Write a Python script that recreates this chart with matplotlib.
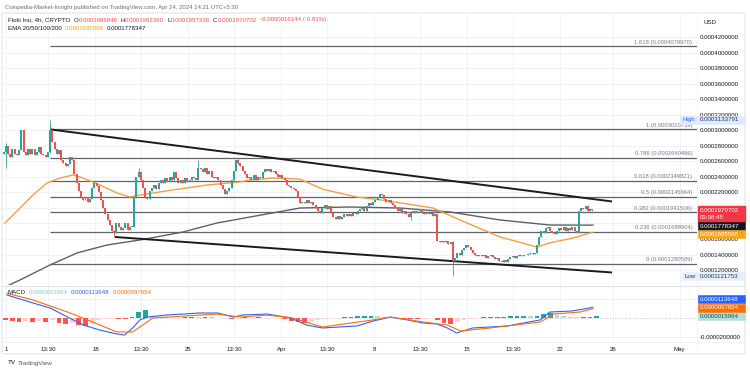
import numpy as np
import matplotlib
matplotlib.use("Agg")
import matplotlib.pyplot as plt
from matplotlib.patches import Rectangle, FancyBboxPatch
from matplotlib.lines import Line2D

plt.rcParams['font.family'] = ['Liberation Sans', 'DejaVu Sans']

UNIT = 1e-6  # all price / indicator values below are in millionths of USD

# ---------------- data ----------------
# 4h candles starting Mar 11 00:00, closes in 1e-6 USD
first_open = 270
closes = [
    272, 280, 270, 266, 276, 270,
    268, 274, 300, 272, 268, 276,
    270, 276, 268, 272, 278, 270,
    268, 266, 272, 300, 285, 276,
    270, 274, 262, 258, 254, 256,
    266, 262, 244, 232, 222, 214,
    210, 214, 208, 212, 226, 232,
    228, 220, 210, 200, 192, 184,
    178, 170, 168, 180, 176, 172,
    174, 180, 172, 176, 176, 214,
    240, 246, 236, 226, 214, 212,
    222, 226, 230, 224, 232, 236,
    232, 238, 234, 240, 236, 246,
    238, 232, 236, 232, 238, 234,
    236, 240, 238, 236, 252, 250,
    246, 252, 244, 248, 240, 238,
    240, 236, 230, 224, 218, 222,
    226, 236, 248, 262, 258, 254,
    248, 244, 238, 240, 236, 242,
    236, 240, 238, 246, 250, 248,
    250, 246, 248, 244, 240, 242,
    238, 236, 230, 228, 226, 224,
    222, 214, 206, 208, 206, 210,
    206, 208, 204, 200, 196, 194,
    200, 204, 198, 202, 194, 188,
    186, 190, 186, 188, 192, 190,
    192, 190, 194, 192, 196, 198,
    200, 196, 202, 206, 204, 208,
    210, 214, 218, 216, 212, 208,
    210, 206, 204, 200, 196, 198,
    194, 196, 192, 188, 194, 196,
    194, 196, 198, 194, 192, 194,
    192, 194, 190, 192, 158, 156,
    158, 156, 158, 154, 156, 132,
    136, 142, 140, 146, 148, 152,
    150, 146, 142, 140, 138, 140,
    138, 140, 136, 138, 140, 137,
    134, 136, 132, 130, 133, 131,
    134, 137, 138, 136, 138, 139,
    138, 140, 139, 141, 142, 141,
    142, 152, 163, 170, 168, 174,
    176, 170, 168, 166, 170, 174,
    172, 176, 170, 174, 172, 175,
    170, 168, 196, 200, 198, 202,
    196, 199, 197.0702,
]
wick_idx = [1, 21, 50, 61, 88, 106, 184, 203, 266]
wick_high = [284, 313.3791, 172, 251, 262, 264, 196, 158, 199.2390]
wick_low = [251, 271, 162.6, 240, 236, 256, 184, 112.1753, 195.7336]

# EMA lines (day since Mar 11, value)
ema_fast_days = [0.19, 1.32, 2.30, 3.35, 4.33, 5.31, 6.06, 7.34, 8.62, 9.60, 10.35, 12.84,
                 15.40, 17.88, 18.64, 20.37, 22.40, 24.13, 26.69, 28.65, 30.5, 32.40,
                 34.98, 37.46, 40.25, 41.23, 42.96, 44.24, 44.46]
ema_fast_vals = [180.6, 199.9, 216.7, 232.1, 238.5, 242.4, 238.5, 229.5, 219.2, 214.1, 216.7, 223.1,
                 229.5, 233.4, 236.0, 238.5, 237.0, 224.0, 214.0, 210.0, 205.0, 200.0,
                 180.6, 162.6, 149.7, 155.0, 161.3, 167.8, 168.5598]
ema_slow_days = [0.04, 1.32, 3.58, 5.61, 7.87, 10.35, 13.59, 16.15, 18.64, 22.40, 26.17,
                 29.93, 33.70, 37.46, 41.23, 44.46]
ema_slow_vals = [97.0, 107.3, 126.6, 142.0, 152.3, 158.7, 169.0, 180.6, 188.3, 199.9, 201.2,
                 199.9, 194.8, 184.5, 178.0, 177.8347]

# MACD (1e-6 USD)
macd_days = [0.34, 2.3, 3.6, 4.9, 6.1, 7.3, 8.6, 9.2, 9.8, 10.35, 10.9, 12.4, 14.9, 16.2, 17.4,
             18.1, 19.9, 21.7, 22.9, 24.1, 26.7, 27.9, 29.2, 30.5, 31.7, 32.7, 33.5, 34.2, 35.4,
             38.0, 40.5, 41.2, 42.9, 44.2, 44.46]
macd_vals = [24.2, 15.8, 10.5, 1.0, -7.4, -12.6, -16.8, -17.9, -10.5, -2.0, 1.0, 3.2, 5.3, 5.3, 1.0,
             3.2, 4.2, 0.0, -7.4, -10.5, -8.4, -3.2, 1.0, -2.0, -5.3, -6.3, -10.5, -15.8, -10.5,
             -8.4, -2.0, 6.3, 7.4, 10.5, 11.3648]
signal_days = [0.34, 2.3, 4.9, 6.8, 8.6, 9.8, 10.6, 11.3, 13.6, 16.2, 17.9, 19.9, 21.7, 24.1,
               27.9, 29.2, 31.7, 33.5, 34.5, 36.7, 40.5, 41.5, 43.5, 44.46]
signal_vals = [26.0, 19.0, 6.3, -4.2, -14.7, -14.7, -7.0, 0.0, 2.0, 4.2, 1.0, 3.0, 0.5, -9.5,
               -2.0, 1.0, -4.2, -7.4, -13.7, -10.5, -4.2, 4.2, 6.3, 9.7654]
# histogram, one value per 12 h starting Mar 11 00:00
hist_vals = [-2, -3, -4, -3, -4, -3, -4, -2, -5, -6,
             -5, -7, -8, -6, -2, -1.5, -1, -1, -1, 1,
             6, 8, 2, 1.5, 1, 0.5, 0.5, 1, 1.5, 1,
             1.5, 1, 0.5, -0.5, -1, 0.5, 1, 0.5, 1, 0.5,
             0.5, -0.5, -1.5, -3, -4, -5, -4, -2.5, -1.5, -0.5,
             0.5, 1, 1.5, 2, 2.5, 2.5, 2, 1, 0.5, -0.5,
             -1, -1, -1.5, -1, -0.5, -2, -5, -6, -4, -2,
             -1, 0.5, 1, 1.5, 1.5, 1.5, 2, 2, 2.5, 2,
             2.5, 4, 5, 3.5, 2, 1.5, 1, 1, 1.5, 1.5994]

# Fibonacci retracement
fib_ratios = ["1.618", "1", "0.786", "0.618", "0.5", "0.382", "0.236", "0"]
fib_values = [407.9970, 301.0739, 264.0486, 234.9821, 214.5664, 194.1506, 168.8904, 128.0589]
fib_start_day = 3.58

# trend lines (day, value)
upper_line_days = [3.58, 45.9]
upper_line_vals = [301.0739, 208.3]
lower_line_days = [8.47, 45.9]
lower_line_vals = [162.6, 116.9]

price_ticks = [120, 140, 160, 180, 200, 220, 240, 260, 280, 300, 320, 340, 360, 380, 400, 420]
macd_ticks = [-20, 20]
time_tick_days = [0.25, 3.45, 7, 10.45, 14, 17.45, 21, 24.45, 28, 31.45, 35, 38.45, 42, 46, 51]
time_tick_labels = ["1", "13:30", "18", "13:30", "25", "13:30", "Apr", "13:30", "8", "13:30",
                    "15", "13:30", "22", "26", "May"]

last_close = 197.0702
high_val = 313.3791
low_val = 112.1753

# ---------------- figure ----------------
W, H = 750, 373
fig = plt.figure(figsize=(7.5, 3.73), dpi=100)
fig.patch.set_facecolor('white')
FS = 4.4
TXT = '#131722'
UP, DN = '#26a69a', '#ef5350'


def px_axes(x0, y0, x1, y1):
    return fig.add_axes([x0 / W, 1 - y1 / H, (x1 - x0) / W, (y1 - y0) / H])


ax = px_axes(2, 14, 697, 285)
axm = px_axes(2, 286, 697, 341)
XMIN, XMAX = -0.038, 52.30
for a in (ax, axm):
    a.set_xlim(XMIN, XMAX)
    for s in a.spines.values():
        s.set_visible(False)
    a.set_facecolor('none')
ax.set_ylim(100.8, 449.6)
axm.set_ylim(-24.2, 33.7)

GRID = '#eef0f4'
for d in time_tick_days:
    ax.axvline(d, color=GRID, lw=0.6, zorder=0)
    axm.axvline(d, color=GRID, lw=0.6, zorder=0)
for v in price_ticks:
    ax.axhline(v, color=GRID, lw=0.6, zorder=0)
for v in macd_ticks:
    axm.axhline(v, color=GRID, lw=0.6, zorder=0)

# fib retracement
ax.hlines(fib_values, fib_start_day, XMAX, color='#5f626b', lw=0.9, zorder=2)
for r, v in zip(fib_ratios, fib_values):
    ax.annotate(f"{r} ({v * UNIT:.10f})", xy=(51.95, v), xytext=(0, 1.2), textcoords='offset points',
                ha='right', va='bottom', fontsize=4.2, color='#787b86', zorder=3)

# trend lines
ax.plot(upper_line_days, upper_line_vals, color='#1b1b1f', lw=1.4, zorder=4, solid_capstyle='butt')
ax.plot(lower_line_days, lower_line_vals, color='#1b1b1f', lw=1.4, zorder=4, solid_capstyle='butt')

# EMAs
ax.plot(ema_slow_days, ema_slow_vals, color='#5d606b', lw=1.0, zorder=3)
ax.plot(ema_fast_days, ema_fast_vals, color='#f2a03d', lw=1.0, zorder=3)

# candles
c = np.array(closes, float)
o = np.r_[first_open, c[:-1]]
n = len(c)
t = (np.arange(n) + 0.5) / 6.0
hi = np.maximum(o, c)
lo = np.minimum(o, c)
for i, hv_, lv_ in zip(wick_idx, wick_high, wick_low):
    hi[i] = max(hi[i], hv_)
    lo[i] = min(lo[i], lv_)
up = c >= o
cols = np.where(up, UP, DN)
ax.vlines(t, lo, hi, colors=cols, lw=0.6, zorder=5)
body_lo = np.minimum(o, c)
body_h = np.maximum(np.abs(c - o), 0.8)
ax.bar(t, body_h, bottom=body_lo, width=0.15, color=cols, linewidth=0, zorder=6)

# MACD pane
hv = np.array(hist_vals, float)
td = np.arange(len(hv)) * 0.5 + 0.25
prev = np.r_[hv[0], hv[:-1]]
hcols = []
for v, p in zip(hv, prev):
    if v >= 0:
        hcols.append('#26a69a' if v >= p else '#b2dfdb')
    else:
        hcols.append('#ff5252' if v <= p else '#ffcdd2')
axm.bar(td, hv, width=0.36, color=hcols, linewidth=0, zorder=2)
axm.axhline(0, color='#b2b5be', lw=0.6, ls=(0, (1, 2)), zorder=1)
axm.plot(macd_days, macd_vals, color='#2962ff', lw=0.8, zorder=3)
axm.plot(signal_days, signal_vals, color='#ff6d00', lw=0.8, zorder=3)

# ---------------- frame / separators ----------------
BORDER = '#e0e3eb'
fig.add_artist(FancyBboxPatch((2 / W, 1 - 354 / H), 743 / W, 341 / H, boxstyle='round,pad=0,rounding_size=0.004',
                              transform=fig.transFigure, facecolor='none', edgecolor=BORDER, lw=0.8))
fig.add_artist(Line2D([2 / W, 745 / W], [1 - 285.5 / H] * 2, transform=fig.transFigure, color=BORDER, lw=0.8))
fig.add_artist(Line2D([2 / W, 745 / W], [1 - 341.5 / H] * 2, transform=fig.transFigure, color='#f0f1f4', lw=0.6))
fig.add_artist(Line2D([697 / W] * 2, [1 - 14 / H, 1 - 354 / H], transform=fig.transFigure, color='#f0f1f4', lw=0.6))


def ydisp(a, v):
    return a.transData.transform((0, v))[1]


def side_box(yc, text, bg, fg, h=8.0, x0=697.5, w=47.5, edge=None):
    fig.add_artist(Rectangle((x0 / W, (yc - h / 2) / H), w / W, h / H, transform=fig.transFigure,
                             facecolor=bg, edgecolor=edge or bg, lw=0.4, zorder=10))
    fig.text((x0 + 2.5) / W, yc / H, text, color=fg, fontsize=FS, va='center', ha='left', zorder=11)


spans_price = []
spans_macd = []

# price scale labels
y_red = ydisp(ax, last_close)
red_top = y_red + 4
fig.add_artist(Rectangle((697.5 / W, (red_top - 16) / H), 47.5 / W, 16 / H, transform=fig.transFigure,
                         facecolor='#f23645', edgecolor='#f23645', zorder=10))
fig.text(700 / W, y_red / H, f"{last_close * UNIT:.10f}", color='white', fontsize=FS, va='center', zorder=11)
fig.text(700 / W, (y_red - 7) / H, "03:08:45", color='white', fontsize=FS, va='center', zorder=11)
spans_price.append((red_top - 16, red_top))
y_blk = min(ydisp(ax, ema_slow_vals[-1]), red_top - 16 - 4)
side_box(y_blk, f"{ema_slow_vals[-1] * UNIT:.10f}", '#131722', 'white')
spans_price.append((y_blk - 4, y_blk + 4))
y_org = min(ydisp(ax, ema_fast_vals[-1]), y_blk - 8)
side_box(y_org, f"{ema_fast_vals[-1] * UNIT:.10f}", '#f7a21b', 'white')
spans_price.append((y_org - 4, y_org + 4))

y_hi = ydisp(ax, high_val)
side_box(y_hi, f"{high_val * UNIT:.10f}", '#dfe9f8', '#1e3a6e')
side_box(y_hi, "High", '#dfe9f8', '#2962ff', x0=680, w=17)
spans_price.append((y_hi - 4, y_hi + 4))
y_lo = ydisp(ax, low_val)
side_box(y_lo, f"{low_val * UNIT:.10f}", '#e6eef9', '#1e3a6e')
side_box(y_lo, "Low", '#e6eef9', '#2a3a5a', x0=682, w=15)
spans_price.append((y_lo - 4, y_lo + 4))

# MACD scale labels (stacked from the bottom up)
y_teal = ydisp(axm, hist_vals[-1])
side_box(y_teal, f"{hist_vals[-1] * UNIT:.10f}", '#b2dfdb', '#1d4f4a')
y_sig = max(ydisp(axm, signal_vals[-1]), y_teal + 8.5)
side_box(y_sig, f"{signal_vals[-1] * UNIT:.10f}", '#ff6d00', 'white')
y_mac = max(ydisp(axm, macd_vals[-1]), y_sig + 8.5)
side_box(y_mac, f"{macd_vals[-1] * UNIT:.10f}", '#2962ff', 'white')
spans_macd += [(y_teal - 4, y_teal + 4), (y_sig - 4, y_sig + 4), (y_mac - 4, y_mac + 4)]


def visible_labels(a, ticks, spans):
    out = []
    for v in ticks:
        yd = ydisp(a, v)
        hidden = any(lo_ <= yd <= hi_ for lo_, hi_ in spans)
        out.append("" if hidden else f"{v * UNIT:.10f}")
    return out


# price axis (labels covered by a value box are hidden, as on TradingView)
ax.set_xticks([])
ax.yaxis.tick_right()
ax.set_yticks(price_ticks)
ax.set_yticklabels(visible_labels(ax, price_ticks, spans_price))
ax.tick_params(axis='y', length=0, pad=2.2, labelsize=FS, labelcolor=TXT)

axm.yaxis.tick_right()
axm.set_yticks(macd_ticks)
axm.set_yticklabels(visible_labels(axm, macd_ticks, spans_macd))
axm.tick_params(axis='y', length=0, pad=2.2, labelsize=FS, labelcolor=TXT)
axm.set_xticks(time_tick_days)
axm.set_xticklabels(time_tick_labels)
axm.tick_params(axis='x', length=0, pad=4.5, labelsize=FS, labelcolor=TXT)

fig.text(703 / W, 1 - 22 / H, "USD", fontsize=FS, color=TXT, va='center')

# ---------------- header texts ----------------
fig.text(5 / W, 1 - 7 / H, "Coinpedia-Market-Insight published on TradingView.com, Apr 24, 2024 14:21 UTC+5:30",
         fontsize=4.3, color='#6a6d78', va='center')

renderer = fig.canvas.get_renderer()
RED = '#ef5350'


def text_run(x, y, tokens, fs=FS):
    for txt, colr, gap in tokens:
        tt = fig.text(x / W, 1 - y / H, txt, color=colr, fontsize=fs, va='center', ha='left')
        x += tt.get_window_extent(renderer).width + gap


text_run(8, 20, [("Floki Inu, 4h, CRYPTO", TXT, 3), ("O", TXT, 0.3), ("0.0001986846", RED, 3),
                 ("H", TXT, 0.3), ("0.0001992390", RED, 3), ("L", TXT, 0.3), ("0.0001957336", RED, 3),
                 ("C", TXT, 0.3), ("0.0001970702", RED, 3), ("-0.0000016144 (-0.81%)", RED, 0)])
text_run(8, 29, [("EMA 20/50/100/200", TXT, 3), (f"{ema_fast_vals[-1] * UNIT:.10f}", '#f7a21b', 3),
                 (f"{ema_slow_vals[-1] * UNIT:.10f}", TXT, 0)])
text_run(8, 293, [("MACD", TXT, 3), (f"{hist_vals[-1] * UNIT:.10f}", '#80cbc4', 3),
                  (f"{macd_vals[-1] * UNIT:.10f}", '#2962ff', 3),
                  (f"{signal_vals[-1] * UNIT:.10f}", '#ff6d00', 0)])

text_run(8, 363, [("TV", TXT, 2), ("TradingView", '#50535e', 0)], fs=4.6)

fig.savefig("out.png", dpi=100, facecolor='white')
